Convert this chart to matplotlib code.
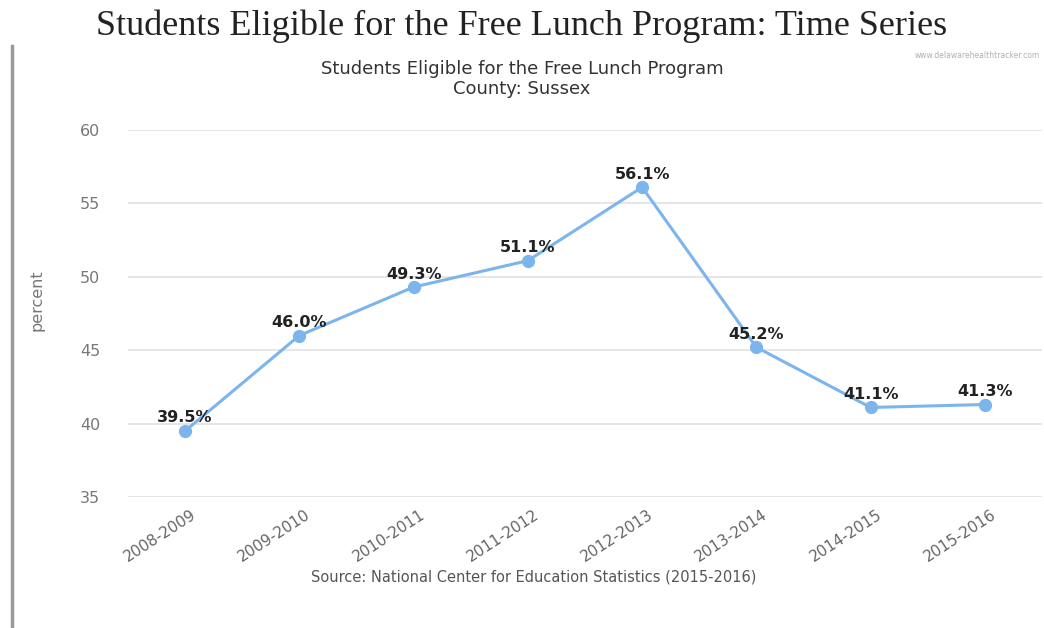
import matplotlib
matplotlib.use("Agg")
import matplotlib.pyplot as plt
from matplotlib.lines import Line2D

categories = ["2008-2009", "2009-2010", "2010-2011", "2011-2012",
              "2012-2013", "2013-2014", "2014-2015", "2015-2016"]
values = [39.5, 46.0, 49.3, 51.1, 56.1, 45.2, 41.1, 41.3]
yticks = [35, 40, 45, 50, 55, 60]

W, H = 1044, 628
fig = plt.figure(figsize=(W / 100, H / 100), dpi=100)
fig.patch.set_facecolor("white")

# axes: x from 128 to 1042 px, y 60 at 130 px, 35 at 497 px
left, right = 128, 1042
top, bottom = 130, 497
ax = fig.add_axes([left / W, 1 - bottom / H, (right - left) / W, (bottom - top) / H])
ax.set_xlim(-0.5, len(categories) - 0.5)
ax.set_ylim(35, 60)

for s in ax.spines.values():
    s.set_visible(False)
ax.set_yticks(yticks)
ax.yaxis.grid(True, color="#e2e2e2", linewidth=1.2)
ax.set_axisbelow(True)
ax.tick_params(axis="y", length=0, pad=20, labelsize=11.5, labelcolor="#777777")
ax.set_xticks(range(len(categories)))
ax.set_xticklabels([])
ax.tick_params(axis="x", length=0)

x = list(range(len(categories)))
ax.plot(x, values, color="#7cb5ec", linewidth=2.2, marker="o", markersize=8.5,
        markerfacecolor="#7cb5ec", markeredgecolor="#7cb5ec", clip_on=False, zorder=3)

for xi, v in zip(x, values):
    ax.annotate(f"{v:.1f}%", (xi, v), xytext=(0, 4), textcoords="offset points",
                ha="center", va="bottom", fontsize=11.5, fontweight="bold",
                color="#222222", zorder=4)

# rotated category labels
for xi, c in zip(x, categories):
    ax.annotate(c, (xi, 35), xytext=(4, -7), textcoords="offset points",
                ha="right", va="top", rotation=33, rotation_mode="anchor",
                fontsize=11, color="#666666", annotation_clip=False)

ax.set_ylabel("percent", fontsize=11.5, color="#777777")
ax.yaxis.set_label_coords((44 - left) / (right - left), (bottom - 300) / (bottom - top))

# titles
fig.text(522 / W, 1 - 26 / H, "Students Eligible for the Free Lunch Program: Time Series",
         ha="center", va="center", fontsize=26, family="Liberation Serif", color="#222222")
fig.text(522 / W, 1 - 69 / H, "Students Eligible for the Free Lunch Program",
         ha="center", va="center", fontsize=13, color="#333333")
fig.text(522 / W, 1 - 89 / H, "County: Sussex",
         ha="center", va="center", fontsize=13, color="#333333")
fig.text(1040 / W, 1 - 55 / H, "www.delawarehealthtracker.com",
         ha="right", va="center", fontsize=5.5, color="#b0b0b0")
fig.text(534 / W, 1 - 577 / H, "Source: National Center for Education Statistics (2015-2016)",
         ha="center", va="center", fontsize=10.5, color="#555555")

# left vertical border line
fig.add_artist(Line2D([12 / W, 12 / W], [1 - 46 / H, 0], color="#999999", linewidth=2.5))

fig.savefig("out.png", dpi=100, facecolor="white")
